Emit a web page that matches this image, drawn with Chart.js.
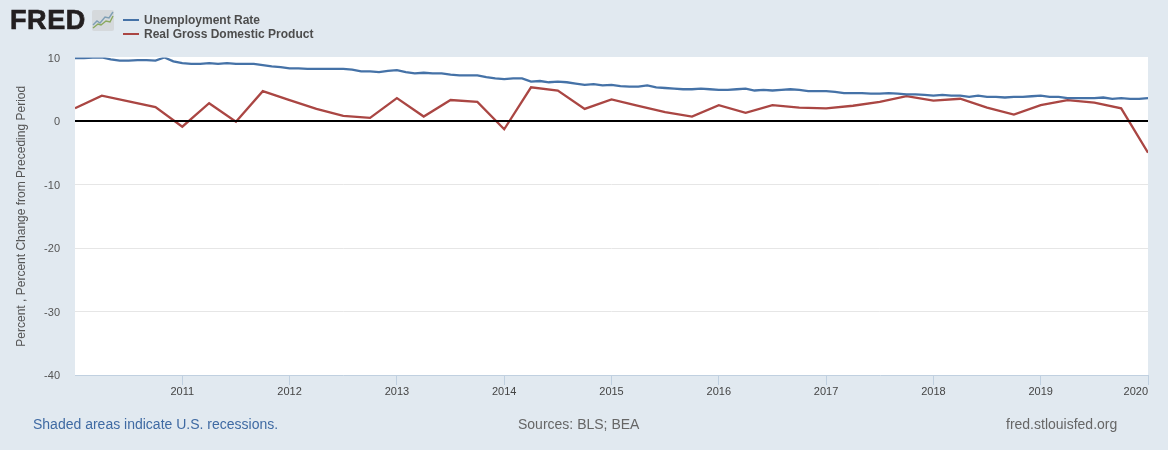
<!DOCTYPE html>
<html>
<head>
<meta charset="utf-8">
<title>FRED</title>
<script src="https://cdn.jsdelivr.net/npm/chart.js@4"></script>
<style>
html, body { margin: 0; padding: 0; background: #e1e9f0; }
#wrap { position: relative; width: 1168px; height: 450px; overflow: hidden; font-family: "Liberation Sans", Arial, sans-serif; }
#c { position: absolute; left: 0; top: 0; }
.abs { position: absolute; white-space: nowrap; }
#logo { left: 10px; top: 5px; font-size: 27px; font-weight: bold; color: #231f20; letter-spacing: 0.6px; -webkit-text-stroke: 0.7px #231f20; }
#icon { left: 92px; top: 10px; }
.leg { left: 144px; font-size: 12px; font-weight: bold; color: #4d4d4d; line-height: 14px; }
.sw { left: 123px; width: 16px; height: 2px; }
.foot { top: 416px; font-size: 14px; color: #666; }
</style>
</head>
<body>
<div id="wrap">
  <canvas id="c" width="1168" height="450"></canvas>
  <div class="abs" id="logo">FRED</div>
  <svg class="abs" id="icon" width="22" height="21" viewBox="0 0 22 21">
    <rect x="0" y="0" width="22" height="21" rx="2" fill="#d5d9dc"/>
    <polyline points="1,15 5,11 8,13 13,7 17,8 21,2" fill="none" stroke="#7f9fb5" stroke-width="1.4"/>
    <polyline points="1,18 6,14 9,15 14,11 18,12 21,6" fill="none" stroke="#8aa95f" stroke-width="1.4"/>
  </svg>
  <div class="abs sw" style="top:19px;background:#4572a7"></div>
  <div class="abs leg" style="top:13px">Unemployment Rate</div>
  <div class="abs sw" style="top:33px;background:#aa4643"></div>
  <div class="abs leg" style="top:27px">Real Gross Domestic Product</div>
  <div class="abs foot" style="left:33px;color:#3f6aa3">Shaded areas indicate U.S. recessions.</div>
  <div class="abs foot" style="left:518px">Sources: BLS; BEA</div>
  <div class="abs foot" style="left:1006px">fred.stlouisfed.org</div>
</div>
<script>
const years = ['2010','2011','2012','2013','2014','2015','2016','2017','2018','2019','2020'];
const yTicks = [10, 0, -10, -20, -30, -40];

// monthly, Jan 2010 - Jan 2020
const unemployment = [
  9.9, 9.9, 10.0, 10.0, 9.7, 9.5, 9.5, 9.6, 9.6, 9.5, 10.0, 9.4,
  9.1, 9.0, 9.0, 9.1, 9.0, 9.1, 9.0, 9.0, 9.0, 8.8, 8.6, 8.5,
  8.3, 8.3, 8.2, 8.2, 8.2, 8.2, 8.2, 8.1, 7.8, 7.8, 7.7, 7.9,
  8.0, 7.7, 7.5, 7.6, 7.5, 7.5, 7.3, 7.2, 7.2, 7.2, 6.9, 6.7,
  6.6, 6.7, 6.7, 6.2, 6.3, 6.1, 6.2, 6.1, 5.9, 5.7, 5.8, 5.6,
  5.7, 5.5, 5.4, 5.4, 5.6, 5.3, 5.2, 5.1, 5.0, 5.0, 5.1, 5.0,
  4.9, 4.9, 5.0, 5.1, 4.8, 4.9, 4.8, 4.9, 5.0, 4.9, 4.7, 4.7,
  4.7, 4.6, 4.4, 4.4, 4.4, 4.3, 4.3, 4.4, 4.3, 4.2, 4.2, 4.1,
  4.0, 4.1, 4.0, 4.0, 3.8, 4.0, 3.8, 3.8, 3.7, 3.8, 3.8, 3.9,
  4.0, 3.8, 3.8, 3.6, 3.6, 3.6, 3.6, 3.7, 3.5, 3.6, 3.5, 3.5,
  3.6
];

// quarterly, 2010 Q1 - 2020 Q1
const gdp = [
  2.0, 4.0, 3.1, 2.2,
  -0.9, 2.8, -0.1, 4.7,
  3.3, 1.9, 0.8, 0.5,
  3.6, 0.7, 3.3, 3.0,
  -1.3, 5.3, 4.8, 1.9,
  3.4, 2.4, 1.4, 0.7,
  2.5, 1.3, 2.5, 2.1,
  2.0, 2.4, 3.0, 3.9,
  3.2, 3.5, 2.1, 1.0,
  2.5, 3.3, 2.9, 2.0,
  -5.0
];

// white plot area + the 2020 label, which has to stay inside the plot's right edge
const fredPlugin = {
  id: 'fredPlugin',
  beforeDraw(chart) {
    const a = chart.chartArea, ctx = chart.ctx;
    ctx.save();
    ctx.fillStyle = '#fff';
    ctx.fillRect(a.left, a.top - 0.5, a.right - a.left, a.bottom - a.top + 0.5);
    ctx.restore();
  },
  afterDraw(chart) {
    const ctx = chart.ctx, x = chart.scales.x;
    ctx.save();
    ctx.font = '11px "Liberation Sans"';
    ctx.fillStyle = '#444';
    ctx.textAlign = 'right';
    ctx.textBaseline = 'middle';
    ctx.fillText(years[10], x.getPixelForValue(120), 392);
    ctx.restore();
  }
};

new Chart(document.getElementById('c'), {
  type: 'line',
  data: {
    datasets: [
      { label: 'Unemployment Rate', data: unemployment.map((v, i) => ({ x: i, y: v })), borderColor: '#4572a7', borderWidth: 2.3, pointRadius: 0, tension: 0 },
      { label: 'Real Gross Domestic Product', data: gdp.map((v, i) => ({ x: i * 3, y: v })), borderColor: '#aa4643', borderWidth: 2.3, pointRadius: 0, tension: 0 }
    ]
  },
  options: {
    responsive: false,
    animation: false,
    layout: { padding: { top: 57.5, right: 20, left: 0, bottom: 0 } },
    plugins: { legend: { display: false }, tooltip: { enabled: false } },
    scales: {
      x: {
        type: 'linear', min: 0, max: 120,
        afterFit(s) { s.height = 75; },
        afterBuildTicks(s) { s.ticks = years.map((y, i) => ({ value: i * 12 })); },
        ticks: {
          maxRotation: 0, autoSkip: false, padding: 0,
          font: { size: 11, family: '"Liberation Sans"' }, color: '#444',
          callback: v => (v === 0 || v === 120) ? '' : years[v / 12]
        },
        grid: { drawOnChartArea: false, tickLength: 10, tickColor: c => c.tick.value === 0 ? 'transparent' : '#c0d0e0' },
        border: { color: '#c0d0e0', width: 1 }
      },
      y: {
        min: -40, max: 10,
        afterFit(s) { s.width = 75; },
        afterBuildTicks(s) { s.ticks = yTicks.map(v => ({ value: v })); },
        ticks: {
          padding: 15, labelOffset: 1,
          font: { size: 11, family: '"Liberation Sans"' }, color: '#555'
        },
        grid: {
          drawTicks: false, z: 1,
          color: c => c.tick.value === 0 ? '#000' : (c.tick.value === 10 || c.tick.value === -40 ? 'transparent' : '#e6e6e6'),
          lineWidth: c => c.tick.value === 0 ? 2 : 1
        },
        border: { display: false },
        title: {
          display: true, text: 'Percent , Percent Change from Preceding Period',
          color: '#555', font: { size: 12, family: '"Liberation Sans"' }, padding: { top: 14, bottom: 0 }
        }
      }
    }
  },
  plugins: [fredPlugin]
});
</script>
</body>
</html>
